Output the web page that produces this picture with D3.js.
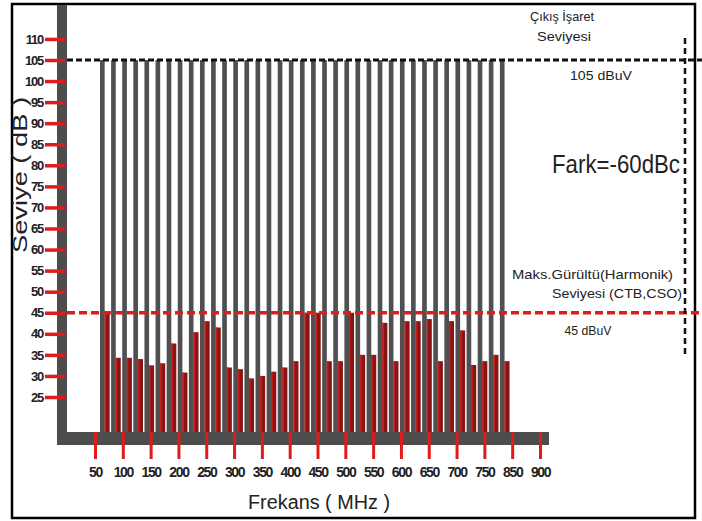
<!DOCTYPE html>
<html>
<head>
<meta charset="utf-8">
<script src="https://cdn.jsdelivr.net/npm/d3@7"></script>
<style>
  html, body { margin: 0; padding: 0; background: #fff; }
  svg { display: block; }
  text { font-family: 'Liberation Sans Narrow', 'Liberation Sans', Arial, sans-serif; fill: #222; }
</style>
</head>
<body>
<svg id="chart" width="702" height="521"></svg>
<script>
// ---------- data ----------
const freqLabels = ["50","100","150","200","250","300","350","400","450","500","550","600","650","700","750","850","900"];
const yTickValues = [25,30,35,40,45,50,55,60,65,70,75,80,85,90,95,100,105,110];
const carrierLevel = 105;   // Çıkış İşaret Seviyesi (dBuV)
const noiseLimit = 45;      // Maks. Gürültü Seviyesi (dBuV)
// noise / harmonic (CTB, CSO) level per channel, dB
const noiseLevels = [45, 34.3, 34.3, 34, 32.5, 33, 37.7, 30.8, 40.4, 43, 41.5, 32, 31.6, 29.4, 30, 31, 32, 33.5,
                     45, 45, 33.5, 33.5, 45, 35, 35, 42.6, 33.5, 43, 43, 43.5, 33.5, 43, 40.8, 32.6, 33.5, 35, 33.5];
const channels = noiseLevels.map((v, i) => i + 1);

// ---------- drawing ----------
const svg = d3.select("#chart");
const W = 702, H = 521;
svg.append("rect").attr("width", W).attr("height", H).attr("fill", "#fff");

const y = d3.scaleLinear().domain([25, 105]).range([397, 60]);
const xCh = d3.scaleBand().domain(channels).range([100, 511]).padding(0);
const xLab = d3.scalePoint().domain(freqLabels).range([95, 540]);

const axisGray = "#4d4d4d";
const barGray = "#505050";
const red = "#e01b1b";
const darkRed = "#8a1414";
const baseY = 432;

// frame
svg.append("rect").attr("x", 12).attr("y", 4).attr("width", 683).attr("height", 514)
  .attr("fill", "none").attr("stroke", "#000").attr("stroke-width", 2.5);

// y axis heavy bar and bottom heavy bar
svg.append("rect").attr("x", 57).attr("y", 5).attr("width", 10).attr("height", 440).attr("fill", axisGray);
svg.append("rect").attr("x", 57).attr("y", baseY).attr("width", 492).attr("height", 13).attr("fill", axisGray);

// carrier bars (gray) and noise bars (red)
const bw = xCh.bandwidth();
svg.append("g").selectAll("rect").data(channels).join("rect")
  .attr("x", d => xCh(d))
  .attr("y", y(carrierLevel))
  .attr("width", bw * 0.42)
  .attr("height", baseY - y(carrierLevel))
  .attr("fill", barGray);

svg.append("g").selectAll("rect").data(noiseLevels).join("rect")
  .attr("x", (d, i) => xCh(channels[i]) + bw * 0.42)
  .attr("y", d => y(d))
  .attr("width", bw * 0.45)
  .attr("height", d => baseY - y(d))
  .attr("fill", darkRed);
svg.append("g").selectAll("rect").data(noiseLevels).join("rect")
  .attr("x", (d, i) => xCh(channels[i]) + bw * 0.42)
  .attr("y", d => y(d))
  .attr("width", 1.6)
  .attr("height", d => baseY - y(d))
  .attr("fill", "#c41d1d");

// y axis ticks
const yAxis = d3.axisLeft(y).tickValues(yTickValues).tickSize(20).tickPadding(2);
const gy = svg.append("g").attr("transform", "translate(65,0)").call(yAxis);
gy.select(".domain").remove();
gy.selectAll(".tick line").attr("stroke", red).attr("stroke-width", 3.5);
gy.selectAll(".tick text").attr("font-size", 13).attr("fill", "#222").attr("font-weight", "bold")
  .attr("font-family", "'Liberation Sans Narrow','Liberation Sans',Arial,sans-serif")
  .attr("letter-spacing", -1.2);

// x axis ticks
const xAxis = d3.axisBottom(xLab).tickSize(27).tickPadding(8);
const gx = svg.append("g").attr("transform", `translate(0,${baseY})`).call(xAxis);
gx.select(".domain").remove();
gx.selectAll(".tick line").attr("stroke", red).attr("stroke-width", 3);
gx.selectAll(".tick text").attr("font-size", 14).attr("fill", "#222").attr("font-weight", "bold")
  .attr("font-family", "'Liberation Sans Narrow','Liberation Sans',Arial,sans-serif")
  .attr("letter-spacing", -1.4);

// reference dashed lines
svg.append("line").attr("x1", 67).attr("x2", W).attr("y1", y(carrierLevel)).attr("y2", y(carrierLevel))
  .attr("stroke", "#111").attr("stroke-width", 3).attr("stroke-dasharray", "6,3");
svg.append("line").attr("x1", 67).attr("x2", W).attr("y1", y(noiseLimit)).attr("y2", y(noiseLimit))
  .attr("stroke", red).attr("stroke-width", 3.5).attr("stroke-dasharray", "8,4");
svg.append("line").attr("x1", 685).attr("x2", 685).attr("y1", 38).attr("y2", 356)
  .attr("stroke", "#111").attr("stroke-width", 2.5).attr("stroke-dasharray", "6,4");

// annotations
function label(txt, x, yy, size, anchor, len) {
  const t = svg.append("text").attr("x", x).attr("y", yy).attr("font-size", size)
    .attr("text-anchor", anchor).text(txt);
  if (len) t.attr("textLength", len).attr("lengthAdjust", "spacingAndGlyphs");
  return t;
}
label("Çıkış İşaret", 562, 21, 12, "middle", 64);
label("Seviyesi", 564, 41, 12, "middle", 54);
label("105 dBuV", 601, 80, 12, "middle", 62);
label("Fark=-60dBc", 552, 173, 25, "start", 128);
label("Maks.Gürültü(Harmonik)", 512, 279, 13, "start", 161);
label("Seviyesi (CTB,CSO)", 682, 298, 13, "end", 130);
label("45 dBuV", 588, 335, 12, "middle", 47);

// axis titles
label("Frekans ( MHz )", 248, 509, 20, "start", 142);
svg.append("text").attr("transform", "translate(27,175) rotate(-90)")
  .attr("text-anchor", "middle").attr("font-size", 21).attr("fill", "#2a2a2a")
  .attr("textLength", 156).attr("lengthAdjust", "spacingAndGlyphs")
  .text("Seviye ( dB )");
</script>
</body>
</html>
